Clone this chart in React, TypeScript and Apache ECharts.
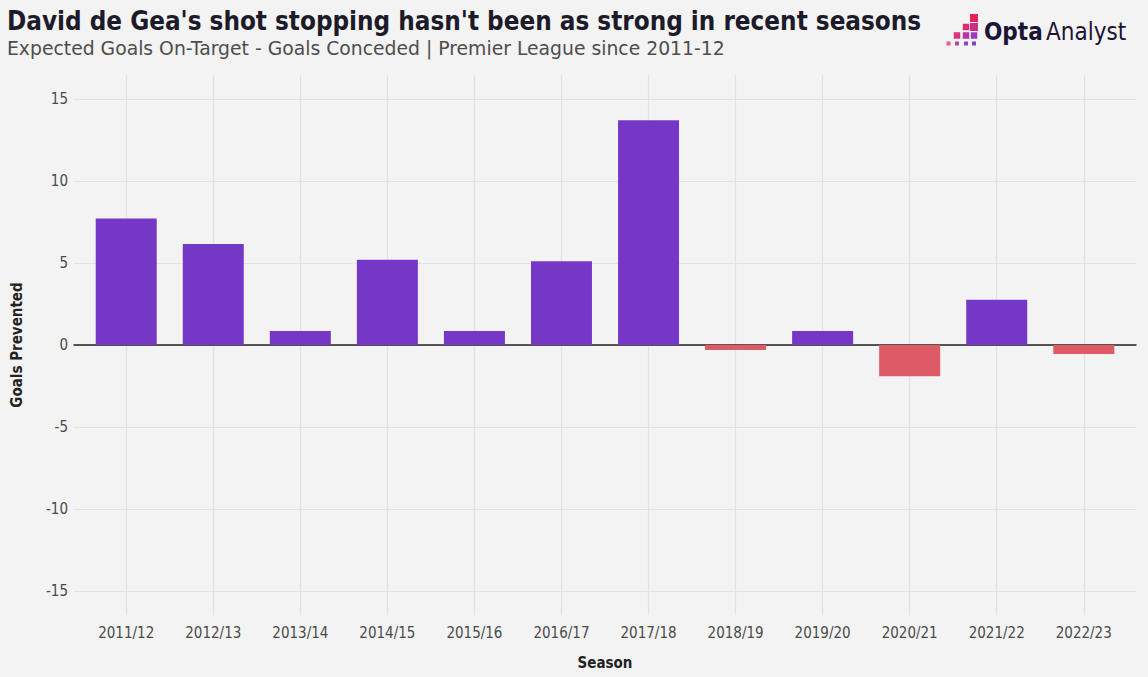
import React, { useEffect, useRef } from 'react';
import * as echarts from 'echarts';

const seasons = [
  '2011/12', '2012/13', '2013/14', '2014/15', '2015/16', '2016/17',
  '2017/18', '2018/19', '2019/20', '2020/21', '2021/22', '2022/23',
];
const goalsPrevented = [7.7, 6.15, 0.85, 5.2, 0.85, 5.1, 13.7, -0.3, 0.85, -1.9, 2.75, -0.55];
const yTicks = [-15, -10, -5, 0, 5, 10, 15];
const xTicks = seasons.map((_, i) => i);

const FONT = "'DejaVu Sans Condensed', 'DejaVu Sans', sans-serif";
const SUBFONT = "'DejaVu Sans', sans-serif";
const PURPLE = '#7538c6';
const RED = '#de5a67';

// logo: staircase of squares, [col, row] with col 3 on the right, row 3 at the bottom
const logoCells: [number, number, string][] = [
  [3, 0, '#e2245a'],
  [2, 1, '#dc2d6e'], [3, 1, '#c92f8a'],
  [1, 2, '#d8357a'], [2, 2, '#b4379f'], [3, 2, '#9a3cc0'],
  [0, 3, '#e0608e'], [1, 3, '#b04aa8'], [2, 3, '#8a48c0'], [3, 3, '#7a44c4'],
];
const logoColX = [948.5, 957, 966, 974];
const logoRowY = [18, 27, 35.5, 43.5];
const logoColSize = [4, 6.5, 6.5, 8];
const logoRowSize = [8, 8, 6.5, 4];

const App: React.FC = () => {
  const chartRef = useRef<HTMLDivElement | null>(null);

  useEffect(() => {
    if (!chartRef.current) return;
    const chart = echarts.init(chartRef.current, undefined, { renderer: 'svg' });

    const logo = logoCells.map(([c, r, color]) => {
      const size = Math.min(logoColSize[c], logoRowSize[r]);
      return {
        type: 'rect',
        shape: { x: logoColX[c] - size / 2, y: logoRowY[r] - size / 2, width: size, height: size },
        style: { fill: color },
      };
    });

    chart.setOption({
      animation: false,
      backgroundColor: '#f3f3f3',
      title: {
        left: 2,
        top: 3,
        text: "David de Gea's shot stopping hasn't been as strong in recent seasons",
        subtext: 'Expected Goals On-Target - Goals Conceded | Premier League since 2011-12',
        itemGap: 5,
        textStyle: { fontFamily: FONT, fontSize: 25.8, fontWeight: 'bold', color: '#1d1a2a' },
        subtextStyle: { fontFamily: SUBFONT, fontSize: 18.8, color: '#4d4d4d' },
      },
      graphic: [
        ...logo,
        {
          type: 'text',
          left: 984,
          top: 20,
          style: { text: 'Opta', font: `bold 24px ${FONT}`, fill: '#1c1433' },
        },
        {
          type: 'text',
          left: 1046,
          top: 20,
          style: { text: 'Analyst', font: `24px ${FONT}`, fill: '#1c1433' },
        },
      ],
      grid: { left: 74, right: 12, top: 75, bottom: 62, outerBoundsMode: 'none', containLabel: false },
      xAxis: {
        type: 'value',
        min: -0.6,
        max: 11.6,
        name: 'Season',
        nameLocation: 'middle',
        nameGap: 40,
        nameTextStyle: { fontFamily: FONT, fontSize: 15, fontWeight: 'bold', color: '#222' },
        axisLine: { onZero: true, lineStyle: { color: '#222', width: 1.5 } },
        axisTick: { show: false, customValues: xTicks },
        axisLabel: {
          customValues: xTicks,
          margin: 10,
          fontFamily: FONT,
          fontSize: 15,
          color: '#4a4a4a',
          formatter: (v: number) => seasons[Math.round(v)] ?? '',
        },
        splitLine: { show: true, lineStyle: { color: '#e2e2e2', width: 1.2 } },
      },
      yAxis: {
        type: 'value',
        min: -16.45,
        max: 16.45,
        name: 'Goals Prevented',
        nameLocation: 'middle',
        nameGap: 50,
        nameTextStyle: { fontFamily: FONT, fontSize: 15, fontWeight: 'bold', color: '#222' },
        axisLine: { show: false },
        axisTick: { show: false, customValues: yTicks },
        axisLabel: {
          customValues: yTicks,
          margin: 6,
          fontFamily: FONT,
          fontSize: 15,
          color: '#4a4a4a',
        },
        splitLine: { show: true, lineStyle: { color: '#e2e2e2', width: 1.2 } },
      },
      series: [
        {
          type: 'bar',
          barWidth: 61,
          data: goalsPrevented.map((v, i) => ({
            value: [i, v],
            itemStyle: { color: v >= 0 ? PURPLE : RED },
          })),
        },
      ],
    });

    return () => {
      chart.dispose();
    };
  }, []);

  return (
    <div
      ref={chartRef}
      style={{ position: 'absolute', left: 0, top: 0, width: 1148, height: 677 }}
    />
  );
};

export default App;
